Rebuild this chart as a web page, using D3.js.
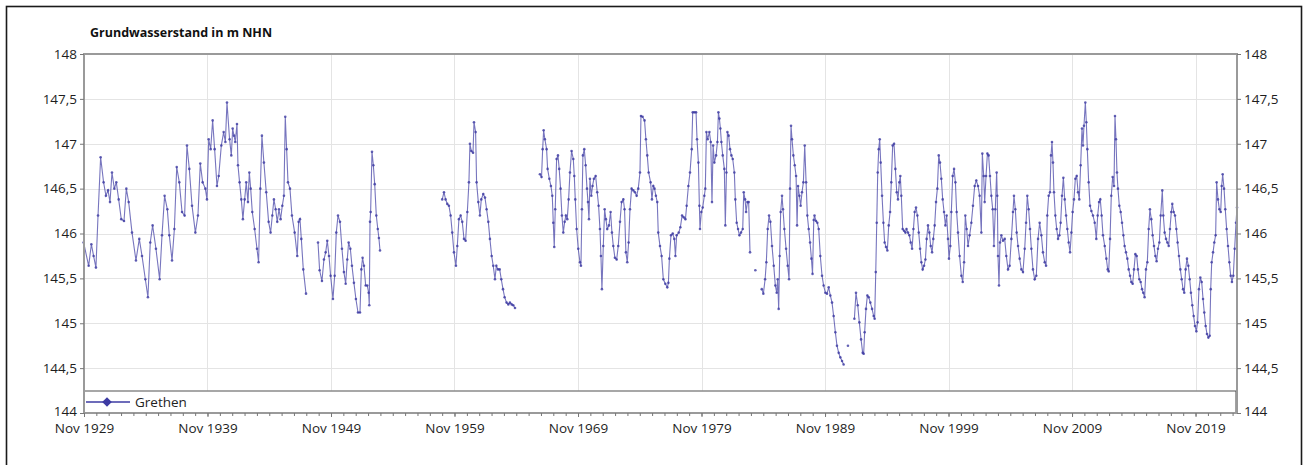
<!DOCTYPE html>
<html>
<head>
<meta charset="utf-8">
<script src="https://cdn.jsdelivr.net/npm/d3@7"></script>
<style>
  body { margin: 0; background: #fff; }
  svg { display: block; font-family: "Open Sans", sans-serif; }
</style>
</head>
<body>
<div id="chart"></div>
<script>
var seg1930 = [[1929.80,145.90],[1930.21,145.64],[1930.43,145.88],[1930.61,145.75],[1930.80,145.62],[1930.97,146.20],[1931.18,146.85],[1931.42,146.57],[1931.61,146.42],[1931.78,146.48],[1931.94,146.35],[1932.10,146.68],[1932.29,146.50],[1932.45,146.57],[1932.64,146.38],[1932.85,146.16],[1933.07,146.14],[1933.26,146.50],[1933.45,146.35],[1933.72,146.01],[1934.04,145.70],[1934.31,145.94],[1934.53,145.75],[1934.80,145.49],[1935.01,145.29],[1935.20,145.90],[1935.39,146.09],[1935.66,145.83],[1935.96,145.49],[1936.15,145.98],[1936.36,146.42],[1936.58,146.27],[1936.74,145.98],[1936.96,145.70],[1937.15,146.05],[1937.34,146.74],[1937.55,146.57],[1937.77,146.24],[1937.98,146.20],[1938.17,146.98],[1938.36,146.72],[1938.58,146.31],[1938.85,146.01],[1939.06,146.20],[1939.25,146.78],[1939.44,146.57],[1939.66,146.50],[1939.79,146.38],[1939.93,147.05],[1940.09,146.94],[1940.25,147.26],[1940.41,146.94],[1940.60,146.53],[1940.74,146.64],[1940.95,146.98],[1941.14,147.13],[1941.28,147.02],[1941.41,147.46],[1941.62,147.05],[1941.76,146.87],[1941.87,147.17],[1941.98,147.09],[1942.08,147.02],[1942.22,147.22],[1942.30,146.76],[1942.43,146.57],[1942.57,146.38],[1942.70,146.16],[1942.84,146.38],[1942.97,146.57],[1943.11,146.35],[1943.22,146.68],[1943.33,146.50],[1943.46,146.24],[1943.65,146.05],[1943.84,145.83],[1943.97,145.68],[1944.11,146.50],[1944.24,147.09],[1944.40,146.79],[1944.59,146.46],[1944.78,146.13],[1944.94,146.01],[1945.08,146.20],[1945.21,146.38],[1945.35,146.27],[1945.48,146.13],[1945.62,146.27],[1945.75,146.16],[1945.89,146.31],[1946.02,146.42],[1946.13,147.30],[1946.24,146.94],[1946.35,146.57],[1946.51,146.50],[1946.67,146.20],[1946.89,146.01],[1947.10,145.75],[1947.21,146.13],[1947.32,146.16],[1947.43,145.94],[1947.59,145.60],[1947.81,145.33]];

var seg1949 = [[1948.78,145.90],[1948.91,145.59],[1949.10,145.47],[1949.26,145.71],[1949.40,145.79],[1949.53,145.92],[1949.67,145.75],[1949.80,145.53],[1949.99,145.27],[1950.13,145.53],[1950.26,146.01],[1950.40,146.20],[1950.56,146.13],[1950.72,145.83],[1950.88,145.57],[1951.02,145.44],[1951.15,145.71],[1951.26,145.90],[1951.40,145.83],[1951.53,145.64],[1951.69,145.45],[1951.85,145.27],[1952.02,145.12],[1952.18,145.12],[1952.29,145.60],[1952.39,145.73],[1952.50,145.64],[1952.64,145.42],[1952.77,145.42],[1952.88,145.34],[1952.93,145.20],[1952.99,146.13],[1953.04,146.24],[1953.15,146.91],[1953.26,146.76],[1953.37,146.55],[1953.50,146.20],[1953.62,146.05],[1953.71,145.95],[1953.80,145.81]];

var seg1959 = [[1958.84,146.38],[1958.98,146.46],[1959.11,146.38],[1959.25,146.33],[1959.38,146.31],[1959.52,146.20],[1959.65,146.01],[1959.79,145.79],[1959.95,145.64],[1960.06,145.86],[1960.19,146.16],[1960.33,146.20],[1960.46,146.13],[1960.60,145.94],[1960.73,145.92],[1960.87,146.24],[1961.00,146.57],[1961.08,147.00],[1961.19,146.92],[1961.33,146.90],[1961.41,147.24],[1961.54,147.13],[1961.62,146.57],[1961.76,146.35],[1961.89,146.20],[1962.00,146.38],[1962.16,146.44],[1962.30,146.40],[1962.43,146.27],[1962.57,146.13],[1962.70,145.94],[1962.84,145.75],[1962.97,145.64],[1963.11,145.49],[1963.22,145.64],[1963.35,145.60],[1963.49,145.60],[1963.62,145.49],[1963.76,145.38],[1963.89,145.29],[1964.05,145.23],[1964.19,145.21],[1964.32,145.23],[1964.46,145.21],[1964.59,145.20],[1964.73,145.17]];

var seg1967 = [[1966.75,146.66],[1966.88,146.63],[1966.97,146.94],[1967.05,147.15],[1967.15,147.05],[1967.29,146.94],[1967.37,146.72],[1967.51,146.61],[1967.64,146.53],[1967.75,146.42],[1967.83,146.12],[1967.91,145.85],[1967.99,146.27],[1968.10,146.83],[1968.21,146.87],[1968.31,146.72],[1968.42,146.50],[1968.53,146.20],[1968.64,146.01],[1968.75,146.13],[1968.85,146.20],[1968.96,146.16],[1969.07,146.38],[1969.18,146.68],[1969.31,146.92],[1969.45,146.83],[1969.53,146.64],[1969.61,146.38],[1969.72,146.05],[1969.85,145.83],[1969.99,145.68],[1970.07,145.64],[1970.15,146.27],[1970.23,146.87],[1970.34,146.94],[1970.45,146.76],[1970.56,146.50],[1970.64,146.35],[1970.72,146.16],[1970.80,146.61],[1970.91,146.42],[1971.01,146.53],[1971.12,146.61],[1971.26,146.64],[1971.39,146.46],[1971.50,146.31],[1971.61,146.05],[1971.69,145.75],[1971.77,145.38],[1971.88,145.86],[1971.99,146.27],[1972.09,146.16],[1972.20,146.05],[1972.34,146.09],[1972.47,146.24],[1972.58,146.01],[1972.69,145.86],[1972.82,145.73],[1972.96,145.71],[1973.09,145.86],[1973.23,146.13],[1973.36,146.35],[1973.50,146.38],[1973.60,146.27],[1973.71,145.79],[1973.82,145.68],[1973.93,145.90],[1974.04,146.27],[1974.17,146.50],[1974.31,146.48],[1974.44,146.46],[1974.58,146.42],[1974.71,146.50],[1974.85,146.68],[1974.93,147.31],[1975.06,147.30],[1975.22,147.26],[1975.33,147.05],[1975.44,146.87],[1975.55,146.68],[1975.71,146.57],[1975.82,146.38],[1975.93,146.53],[1976.03,146.50],[1976.14,146.42],[1976.25,146.35],[1976.33,146.01],[1976.47,145.86],[1976.60,145.75],[1976.74,145.49],[1976.90,145.44],[1977.06,145.40],[1977.15,145.45],[1977.23,145.72],[1977.36,145.98],[1977.50,146.00],[1977.63,145.94],[1977.72,145.75],[1977.82,145.98],[1977.99,146.01],[1978.12,146.07],[1978.26,146.20],[1978.39,146.18],[1978.53,146.16],[1978.63,146.31],[1978.77,146.53],[1978.90,146.68],[1979.04,146.94],[1979.12,147.35],[1979.25,147.35],[1979.39,147.35],[1979.47,147.05],[1979.58,146.79],[1979.66,146.31],[1979.71,146.05],[1979.82,146.24],[1979.93,146.29],[1980.06,146.42],[1980.14,146.50],[1980.23,147.13],[1980.33,147.05],[1980.47,147.13],[1980.58,147.02],[1980.68,146.35],[1980.77,146.98],[1980.87,146.79],[1981.01,146.87],[1981.12,147.02],[1981.20,147.35],[1981.28,147.28],[1981.36,147.17],[1981.44,147.02],[1981.55,146.87],[1981.68,146.72],[1981.76,146.09],[1981.85,146.68],[1981.93,147.13],[1982.03,147.09],[1982.14,146.94],[1982.25,146.87],[1982.36,146.83],[1982.49,146.68],[1982.57,146.38],[1982.68,146.12],[1982.79,146.05],[1982.90,145.98],[1983.03,146.01],[1983.17,146.05],[1983.25,146.46],[1983.36,146.38],[1983.44,146.24],[1983.55,146.35],[1983.65,146.35],[1983.76,145.79]];

var seg1984 = [[1984.19,145.59]];

var seg1985 = [[1984.71,145.38],[1984.84,145.33],[1984.98,145.49],[1985.08,145.68],[1985.19,146.05],[1985.30,146.20],[1985.41,146.13],[1985.54,145.86],[1985.68,145.64],[1985.81,145.42],[1985.92,145.34],[1986.00,145.49],[1986.08,145.16],[1986.16,145.75],[1986.24,146.24],[1986.35,146.42],[1986.43,146.27],[1986.54,146.05],[1986.68,145.83],[1986.81,145.64],[1986.92,145.49],[1987.00,146.50],[1987.08,147.20],[1987.16,147.05],[1987.27,146.87],[1987.38,146.76],[1987.49,146.64],[1987.57,146.09],[1987.65,146.53],[1987.76,146.42],[1987.86,146.31],[1987.97,146.46],[1988.08,146.57],[1988.19,146.98],[1988.30,146.57],[1988.40,146.20],[1988.51,146.05],[1988.62,145.90],[1988.73,145.72],[1988.82,145.55],[1988.92,146.15],[1988.98,146.20],[1989.10,146.14],[1989.21,146.12],[1989.32,146.05],[1989.45,145.75],[1989.59,145.53],[1989.72,145.42],[1989.86,145.34],[1989.99,145.33],[1990.13,145.40],[1990.26,145.31],[1990.40,145.23],[1990.53,145.08],[1990.67,144.90],[1990.80,144.75],[1990.94,144.67],[1991.07,144.62],[1991.21,144.58],[1991.34,144.54]];

var seg1991 = [[1991.69,144.75]];

var seg1992 = [[1992.21,145.05],[1992.34,145.34],[1992.48,145.20],[1992.61,145.01],[1992.75,144.82],[1992.88,144.67],[1992.96,144.66],[1993.04,144.90],[1993.15,145.16],[1993.26,145.31],[1993.37,145.29],[1993.50,145.23],[1993.64,145.16],[1993.77,145.08],[1993.85,145.05],[1993.94,145.57],[1994.02,146.12],[1994.10,146.68],[1994.18,146.94],[1994.26,147.05],[1994.34,146.79],[1994.45,146.42],[1994.56,146.12],[1994.66,145.90],[1994.77,145.85],[1994.88,145.81],[1994.99,146.09],[1995.10,146.24],[1995.20,146.57],[1995.31,146.98],[1995.42,147.00],[1995.53,146.72],[1995.64,146.46],[1995.74,146.38],[1995.85,146.57],[1995.93,146.64],[1996.01,146.42],[1996.12,146.05],[1996.23,146.03],[1996.34,146.01],[1996.43,146.05],[1996.55,146.01],[1996.66,145.98],[1996.77,145.90],[1996.88,145.83],[1996.99,146.05],[1997.09,146.24],[1997.20,146.29],[1997.31,146.20],[1997.42,146.01],[1997.53,145.83],[1997.63,145.68],[1997.74,145.60],[1997.85,145.64],[1997.96,145.71],[1998.06,145.94],[1998.17,146.09],[1998.28,146.01],[1998.39,145.86],[1998.50,145.79],[1998.60,145.94],[1998.71,146.09],[1998.82,146.35],[1998.93,146.50],[1999.04,146.87],[1999.14,146.79],[1999.25,146.61],[1999.36,146.38],[1999.47,146.24],[1999.58,146.09],[1999.68,146.20],[1999.79,145.94],[1999.87,145.72],[1999.98,145.86],[2000.06,146.24],[2000.17,146.64],[2000.28,146.72],[2000.39,146.57],[2000.49,146.24],[2000.60,146.01],[2000.73,145.75],[2000.87,145.53],[2000.98,145.46],[2001.09,145.68],[2001.19,146.20],[2001.30,146.05],[2001.41,145.86],[2001.54,145.98],[2001.68,146.12],[2001.81,146.31],[2001.95,146.53],[2002.08,146.59],[2002.22,146.53],[2002.35,146.42],[2002.49,146.01],[2002.57,146.89],[2002.68,146.64],[2002.76,146.35],[2002.87,146.64],[2002.98,146.89],[2003.08,146.87],[2003.19,146.64],[2003.30,146.42],[2003.41,146.27],[2003.51,145.86],[2003.62,146.27],[2003.73,146.68],[2003.78,146.42],[2003.84,145.75],[2003.92,145.42],[2004.00,145.90],[2004.11,145.98],[2004.24,145.92],[2004.38,145.94],[2004.51,145.75],[2004.65,145.60],[2004.78,145.64],[2004.92,145.94],[2005.05,146.24],[2005.13,146.42],[2005.24,146.27],[2005.35,146.01],[2005.46,145.86],[2005.59,145.72],[2005.73,145.60],[2005.86,145.57],[2006.00,145.83],[2006.11,146.12],[2006.21,146.42],[2006.32,146.27],[2006.43,146.05],[2006.54,145.83],[2006.67,145.60],[2006.81,145.49],[2006.94,145.53],[2007.08,145.94],[2007.21,146.12],[2007.35,145.98],[2007.48,145.79],[2007.62,145.68],[2007.73,145.64],[2007.83,146.20],[2007.94,146.42],[2008.05,146.46],[2008.13,146.87],[2008.21,147.02],[2008.29,146.79],[2008.37,146.46],[2008.48,146.20],[2008.59,146.05],[2008.70,145.94],[2008.81,145.98],[2008.91,146.12],[2009.02,146.42],[2009.13,146.62],[2009.24,146.38],[2009.35,146.20],[2009.45,146.05],[2009.56,145.90],[2009.67,145.79],[2009.78,146.01],[2009.88,146.24],[2009.99,146.38],[2010.10,146.61],[2010.21,146.64],[2010.32,146.46],[2010.42,146.38],[2010.53,146.76],[2010.64,147.17],[2010.72,146.98],[2010.80,147.20],[2010.91,147.46],[2010.99,147.24],[2011.07,146.94],[2011.18,146.57],[2011.29,146.31],[2011.40,146.25],[2011.53,146.20],[2011.67,146.12],[2011.80,145.94],[2011.91,146.20],[2012.02,146.35],[2012.12,146.38],[2012.23,146.20],[2012.34,145.98],[2012.48,145.86],[2012.61,145.72],[2012.72,145.60],[2012.80,145.58],[2012.91,145.94],[2013.01,146.42],[2013.12,146.63],[2013.23,146.53],[2013.31,147.31],[2013.39,147.05],[2013.47,146.68],[2013.55,146.50],[2013.66,146.31],[2013.77,146.24],[2013.88,146.12],[2013.99,145.98],[2014.09,145.86],[2014.20,145.79],[2014.31,145.72],[2014.42,145.60],[2014.53,145.53],[2014.63,145.46],[2014.74,145.44],[2014.85,145.60],[2014.96,145.77],[2015.07,145.75],[2015.17,145.60],[2015.28,145.49],[2015.39,145.46],[2015.50,145.38],[2015.60,145.34],[2015.71,145.29],[2015.82,145.60],[2015.93,145.68],[2016.04,146.05],[2016.14,146.27],[2016.25,146.16],[2016.36,145.98],[2016.47,145.86],[2016.58,145.75],[2016.68,145.69],[2016.79,145.83],[2016.90,145.90],[2017.01,146.20],[2017.14,146.48],[2017.22,146.20],[2017.33,146.01],[2017.44,145.94],[2017.55,145.90],[2017.66,145.86],[2017.76,146.05],[2017.87,146.24],[2017.95,146.33],[2018.06,146.24],[2018.17,146.20],[2018.28,146.05],[2018.38,145.90],[2018.49,145.75],[2018.60,145.60],[2018.71,145.49],[2018.82,145.38],[2018.92,145.34],[2019.03,145.60],[2019.14,145.72],[2019.25,145.64],[2019.36,145.49],[2019.46,145.34],[2019.57,145.20],[2019.68,145.08],[2019.79,144.97],[2019.90,144.91],[2020.00,145.01],[2020.11,145.38],[2020.22,145.51],[2020.33,145.46],[2020.44,145.27],[2020.54,145.12],[2020.65,144.97],[2020.76,144.88],[2020.87,144.84],[2020.98,144.86],[2021.06,145.38],[2021.14,145.68],[2021.25,145.79],[2021.35,145.90],[2021.46,145.98],[2021.54,146.57],[2021.65,146.38],[2021.76,146.27],[2021.87,146.24],[2021.95,146.53],[2022.03,146.66],[2022.14,146.50],[2022.24,146.27],[2022.35,146.05],[2022.46,145.86],[2022.57,145.68],[2022.68,145.53],[2022.78,145.46],[2022.89,145.53],[2023.00,145.83],[2023.11,146.12],[2023.19,146.29]];

var segments = [seg1930, seg1949, seg1959, seg1967, seg1984, seg1985, seg1991, seg1992];
var yTicks = [144, 144.5, 145, 145.5, 146, 146.5, 147, 147.5, 148];
var labelYears = [1929, 1939, 1949, 1959, 1969, 1979, 1989, 1999, 2009, 2019];
var seriesName = "Grethen";
var chartTitle = "Grundwasserstand in m NHN";

var W = 1308, H = 465;
var margin = { top: 54, right: 71, bottom: 52, left: 84 };
var legendH = 22;
var lineColour = "#3d3ba3";

function toDate(y) {
  var yr = Math.floor(y);
  var a = Date.UTC(yr, 0, 1), b = Date.UTC(yr + 1, 0, 1);
  return new Date(a + (y - yr) * (b - a));
}

var svg = d3.select("#chart").append("svg")
  .attr("width", W)
  .attr("height", H);

// outer frame
svg.append("rect")
  .attr("x", 6.5).attr("y", 6.5)
  .attr("width", W - 13).attr("height", H + 20)
  .attr("fill", "none")
  .attr("stroke", "#1a1a1a")
  .attr("stroke-width", 1.6);

svg.append("text")
  .attr("x", 90).attr("y", 37)
  .attr("font-size", "12.5px")
  .attr("font-weight", "bold")
  .attr("fill", "#111")
  .text(chartTitle);

var x0 = margin.left, x1 = W - margin.right;
var y0 = margin.top, y1 = H - margin.bottom;

var x = d3.scaleUtc()
  .domain([new Date(Date.UTC(1929, 10, 1)), toDate(2023.19)])
  .range([x0, x1]);

var y = d3.scaleLinear()
  .domain([144, 148])
  .range([y1, y0]);

var majorDates = labelYears.map(function (yr) { return new Date(Date.UTC(yr, 10, 1)); });
var minorDates = d3.range(1929, 2023).map(function (yr) { return new Date(Date.UTC(yr, 10, 1)); });

// gridlines
var grid = svg.append("g").attr("stroke", "#e4e4e4").attr("stroke-width", 1);
grid.selectAll(".hg").data(yTicks.slice(1, -1)).enter().append("line")
  .attr("x1", x0).attr("x2", x1)
  .attr("y1", function (d) { return Math.round(y(d)) + 0.5; })
  .attr("y2", function (d) { return Math.round(y(d)) + 0.5; });
grid.selectAll(".vg").data(majorDates.slice(1)).enter().append("line")
  .attr("x1", function (d) { return Math.round(x(d)) + 0.5; })
  .attr("x2", function (d) { return Math.round(x(d)) + 0.5; })
  .attr("y1", y0).attr("y2", y1 - legendH);

// series
var line = d3.line()
  .x(function (d) { return x(toDate(d[0])); })
  .y(function (d) { return y(d[1]); });

var series = svg.append("g").attr("class", "series");
series.selectAll("path").data(segments).enter().append("path")
  .attr("d", line)
  .attr("fill", "none")
  .attr("stroke", lineColour)
  .attr("stroke-width", 1.1)
  .attr("stroke-opacity", 0.7);

series.selectAll("circle").data(d3.merge(segments)).enter().append("circle")
  .attr("cx", function (d) { return x(toDate(d[0])); })
  .attr("cy", function (d) { return y(d[1]); })
  .attr("r", 1.3)
  .attr("fill", lineColour)
  .attr("fill-opacity", 0.8);

// legend band inside the plot
svg.append("rect")
  .attr("x", x0).attr("y", y1 - legendH)
  .attr("width", x1 - x0).attr("height", legendH)
  .attr("fill", "#fff")
  .attr("stroke", "#8a8a8a")
  .attr("stroke-width", 1.5);
svg.append("line")
  .attr("x1", x1 - 0.5).attr("x2", x1 - 0.5)
  .attr("y1", y1 - legendH).attr("y2", y1)
  .attr("stroke", "#444").attr("stroke-width", 2);

var ly = y1 - legendH / 2;
svg.append("line")
  .attr("x1", 86).attr("x2", 130)
  .attr("y1", ly).attr("y2", ly)
  .attr("stroke", lineColour).attr("stroke-width", 1.5);
svg.append("path")
  .attr("d", d3.symbol().type(d3.symbolSquare).size(46))
  .attr("transform", "translate(107," + ly + ") rotate(45)")
  .attr("fill", lineColour);
svg.append("text")
  .attr("x", 135).attr("y", ly + 5)
  .attr("font-size", "13.5px")
  .attr("fill", "#222")
  .text(seriesName);

// plot frame
svg.append("rect")
  .attr("x", x0).attr("y", y0)
  .attr("width", x1 - x0).attr("height", y1 - y0)
  .attr("fill", "none")
  .attr("stroke", "#9a9a9a")
  .attr("stroke-width", 2);

// axes
var fmtY = function (d) { return String(d).replace(".", ","); };

function styleAxis(g) {
  g.select(".domain").remove();
  g.selectAll(".tick line").attr("stroke", "#777");
  g.selectAll(".tick text")
    .attr("fill", "#1e1e1e")
    .attr("font-size", "13.5px")
    .attr("font-family", "'Open Sans', sans-serif");
}

function raiseBottomLabel(g) {
  // der unterste Wert sitzt knapp über den Datumsbeschriftungen
  g.selectAll(".tick text").filter(function (d) { return d === 144; }).attr("dy", "0.18em");
}

svg.append("g")
  .attr("transform", "translate(" + x0 + ",0)")
  .call(d3.axisLeft(y).tickValues(yTicks).tickFormat(fmtY).tickSize(4).tickPadding(3))
  .call(styleAxis)
  .call(raiseBottomLabel);

svg.append("g")
  .attr("transform", "translate(" + x1 + ",0)")
  .call(d3.axisRight(y).tickValues(yTicks).tickFormat(fmtY).tickSize(4).tickPadding(3))
  .call(styleAxis)
  .call(raiseBottomLabel);

svg.append("g")
  .attr("transform", "translate(0," + y1 + ")")
  .call(d3.axisBottom(x).tickValues(minorDates).tickFormat("").tickSize(3))
  .call(styleAxis);

svg.append("g")
  .attr("transform", "translate(0," + y1 + ")")
  .call(d3.axisBottom(x).tickValues(majorDates).tickFormat(d3.utcFormat("%b %Y")).tickSize(4).tickPadding(6))
  .call(styleAxis);
</script>
</body>
</html>
